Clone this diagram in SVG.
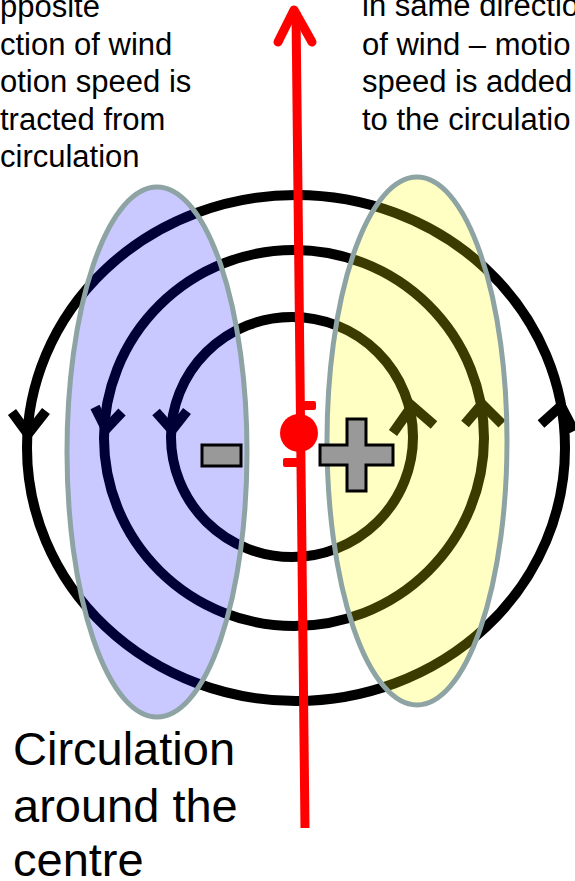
<svg xmlns="http://www.w3.org/2000/svg" width="575" height="881" viewBox="0 0 575 881">
<style>
text{font-family:"Liberation Sans",Arial,sans-serif;fill:#000}
.note{font-size:31px}
.big{font-size:47px}
.ring{fill:none;stroke:#000;stroke-width:10}
.chev{fill:none;stroke:#000;stroke-width:10;stroke-linejoin:miter}
.zone{stroke:#8ea3a3;stroke-width:5}
.sign{fill:#999;stroke:#000;stroke-width:3}
</style>
<rect width="575" height="881" fill="#fff"/>
<g id="circulation">
<ellipse class="ring" cx="296" cy="448" rx="269" ry="253"/>
<ellipse class="ring" cx="294" cy="438" rx="190" ry="188"/>
<ellipse class="ring" cx="292" cy="437" rx="121" ry="120"/>
<polyline class="chev" points="12,412 28,434 46,411"/>
<polyline class="chev" points="95,407 106,429 122,412"/>
<polyline class="chev" points="156,412 172,430 187,411"/>
<polyline class="chev" points="393,433 412,406 434,425"/>
<polyline class="chev" points="465,424 482,404 502,424"/>
<polyline class="chev" points="541,424 561,406 574,431"/>
</g>
<g id="minus-zone">
<ellipse class="zone" cx="157" cy="452" rx="90" ry="265" fill="rgba(0,0,255,0.21)"/>
</g>
<g id="plus-zone">
<ellipse class="zone" cx="417" cy="441" rx="90" ry="264" fill="rgba(255,255,0,0.23)"/>
</g>
<g id="wind">
<line x1="296" y1="12" x2="305" y2="828" stroke="#f00" stroke-width="9"/>
<polyline points="278,42 294,10 312,42" fill="none" stroke="#f00" stroke-width="9" stroke-linecap="round" stroke-linejoin="round"/>
</g>
<g id="storm-symbol" fill="#f00">
<circle cx="299" cy="433" r="19"/>
<rect x="296" y="401" width="20" height="9" rx="2"/>
<rect x="283" y="458" width="19" height="9" rx="2"/>
</g>
<g id="minus">
<rect class="sign" x="202" y="445" width="39" height="21"/>
</g>
<g id="plus">
<polygon class="sign" points="347,419 366,419 366,445 393,445 393,465 366,465 366,491 347,491 347,465 320,465 320,445 347,445"/>
</g>
<g id="note-left">
<text class="note" x="0" y="17">pposite</text>
<text class="note" x="0" y="54.5">ction of wind</text>
<text class="note" x="0" y="92">otion speed is</text>
<text class="note" x="0" y="129.5">tracted from</text>
<text class="note" x="0" y="167">circulation</text>
</g>
<g id="note-right">
<text class="note" x="362" y="16">in same directio</text>
<text class="note" x="362" y="54.5">of wind – motio</text>
<text class="note" x="362" y="92">speed is added</text>
<text class="note" x="362" y="129.5">to the circulatio</text>
</g>
<g id="caption">
<text class="big" x="13" y="765">Circulation</text>
<text class="big" x="13" y="822">around the</text>
<text class="big" x="13" y="876">centre</text>
</g>
</svg>
